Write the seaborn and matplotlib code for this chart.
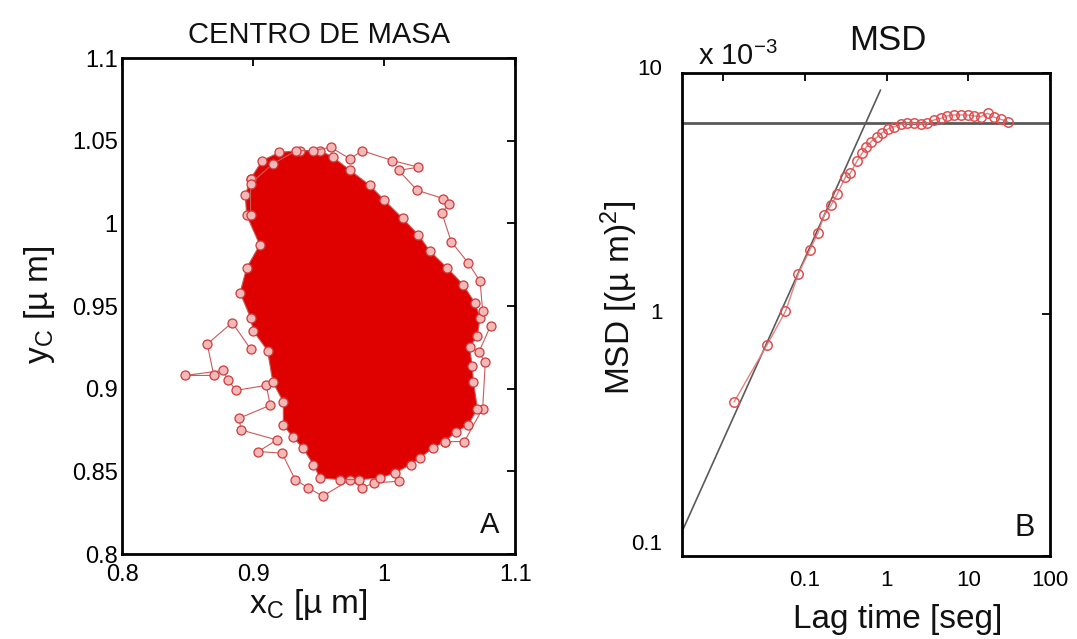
import numpy as np
import pandas as pd
import matplotlib
matplotlib.use("Agg")
import matplotlib.pyplot as plt
import seaborn as sns
from matplotlib.ticker import FixedLocator, FixedFormatter, NullLocator
from matplotlib.transforms import ScaledTranslation

# ---------------- data: panel A (centre of mass) ----------------
# outline of the dense core of the trajectory
core_x = [0.898, 0.907, 0.920, 0.936, 0.951, 0.961, 0.974, 0.989, 1.000, 1.014,
          1.026, 1.035, 1.048, 1.060, 1.069, 1.073, 1.071, 1.065, 1.067, 1.068,
          1.071, 1.064, 1.055, 1.046, 1.037, 1.027, 1.020, 1.008, 0.997, 0.981,
          0.966, 0.951, 0.946, 0.938, 0.930, 0.923, 0.923, 0.915, 0.911, 0.900,
          0.898, 0.890, 0.895, 0.905, 0.895, 0.894]
core_y = [1.027, 1.038, 1.043, 1.044, 1.044, 1.040, 1.032, 1.023, 1.014, 1.003,
          0.993, 0.983, 0.973, 0.963, 0.952, 0.943, 0.932, 0.925, 0.914, 0.904,
          0.888, 0.878, 0.874, 0.868, 0.864, 0.858, 0.854, 0.849, 0.846, 0.845,
          0.845, 0.846, 0.854, 0.864, 0.871, 0.878, 0.892, 0.904, 0.923, 0.935,
          0.943, 0.958, 0.973, 0.987, 1.005, 1.017]

# sparse excursions of the trajectory outside the core
left_x = [0.898, 0.884, 0.865, 0.870, 0.848, 0.877, 0.881, 0.887, 0.910, 0.913,
          0.889, 0.891, 0.918, 0.904, 0.922, 0.932, 0.942, 0.953, 0.974, 0.983,
          0.992, 1.011]
left_y = [0.924, 0.940, 0.927, 0.908, 0.908, 0.911, 0.905, 0.899, 0.902, 0.890,
          0.882, 0.875, 0.869, 0.862, 0.861, 0.845, 0.840, 0.835, 0.845, 0.840,
          0.843, 0.844]
top_x = [0.898, 0.898, 0.915, 0.933, 0.946, 0.959, 0.974, 0.983, 1.006, 1.026,
         1.011, 1.025, 1.045, 1.049, 1.044, 1.051, 1.064, 1.073, 1.075]
top_y = [1.005, 1.024, 1.036, 1.044, 1.044, 1.046, 1.039, 1.044, 1.038, 1.034,
         1.032, 1.020, 1.015, 1.012, 1.006, 0.989, 0.976, 0.965, 0.947]
right_x = [1.081, 1.072, 1.077, 1.075, 1.061, 1.046]
right_y = [0.938, 0.922, 0.916, 0.888, 0.868, 0.868]

# ---------------- data: panel B (MSD, units of 1e-3 um^2) ----------------
lag = [0.0136, 0.0344, 0.058, 0.083, 0.115, 0.145, 0.173, 0.21, 0.25, 0.314,
       0.361, 0.437, 0.503, 0.568, 0.649, 0.769, 0.885, 1.04, 1.23, 1.49,
       1.79, 2.16, 2.61, 3.16, 3.8, 4.6, 5.56, 6.7, 8.1, 9.8,
       11.8, 14.2, 17.2, 20.7, 25.0, 30.3]
msd = [0.434, 0.748, 1.03, 1.47, 1.85, 2.18, 2.58, 2.84, 3.16, 3.71,
       3.85, 4.33, 4.66, 4.95, 5.2, 5.43, 5.66, 5.86, 5.99, 6.13,
       6.19, 6.19, 6.15, 6.19, 6.39, 6.49, 6.64, 6.7, 6.7, 6.7,
       6.64, 6.59, 6.81, 6.56, 6.43, 6.29]
fit_lag = [0.00314, 0.843]
fit_msd = [0.126, 8.5]
plateau = 6.2

a_xticks = [0.8, 0.9, 1.0, 1.1]
a_xlabels = ["0.8", "0.9", "1", "1.1"]
a_yticks = [0.8, 0.85, 0.9, 0.95, 1.0, 1.05, 1.1]
a_ylabels = ["0.8", "0.85", "0.9", "0.95", "1", "1.05", "1.1"]
b_xticks = [0.01, 0.1, 1, 10, 100]
b_xlabels = ["", "0.1", "1", "10", "100"]
b_yticks = [0.1, 1, 10]
b_ylabels = ["0.1", "1", "10"]

# ---------------- style ----------------
sns.set_theme(style="white")
plt.rcParams["font.family"] = ["Liberation Sans", "DejaVu Sans"]
plt.rcParams["mathtext.fontset"] = "custom"
plt.rcParams["mathtext.rm"] = "Liberation Sans"
plt.rcParams["axes.unicode_minus"] = False

fig = plt.figure(figsize=(10.77, 6.39), dpi=100)
axA = fig.add_axes([0.1133, 0.133, 0.3653, 0.7762])
axB = fig.add_axes([0.6332, 0.1299, 0.3418, 0.7559])

# ---------------- panel A ----------------
axA.fill(core_x, core_y, color="#df0000", lw=0, zorder=1)

segs = []
ring_x = core_x + core_x[:1]
ring_y = core_y + core_y[:1]
for name, xs, ys in [("ring", ring_x, ring_y), ("left", left_x, left_y),
                     ("top", top_x, top_y), ("right", right_x, right_y)]:
    segs.append(pd.DataFrame({"x": xs, "y": ys, "seg": name}))
dfA = pd.concat(segs, ignore_index=True)

sns.lineplot(data=dfA, x="x", y="y", units="seg", estimator=None, sort=False,
             color="#cc5a5a", lw=0.8, marker="o", markersize=6.5,
             markerfacecolor="#f3b8b8", markeredgecolor="#cf3a3a",
             markeredgewidth=0.9, legend=False, ax=axA, zorder=2)

axA.set_xlim(0.8, 1.1)
axA.set_ylim(0.8, 1.1)
axA.xaxis.set_major_locator(FixedLocator(a_xticks))
axA.xaxis.set_major_formatter(FixedFormatter(a_xlabels))
axA.yaxis.set_major_locator(FixedLocator(a_yticks))
axA.yaxis.set_major_formatter(FixedFormatter(a_ylabels))
axA.tick_params(axis="both", direction="in", top=True, right=True, length=6,
                width=1.3, colors="black", labelsize=17)
axA.tick_params(axis="x", pad=7)
axA.tick_params(axis="y", pad=3)
axA.set_title("CENTRO DE MASA", fontsize=21, pad=11, color="#111111")
axA.set_xlabel(r"$\mathregular{x_C}$ [µ m]", fontsize=24, color="#111111")
axA.set_ylabel(r"$\mathregular{y_C}$ [µ m]", fontsize=24, color="#111111")
axA.xaxis.set_label_coords(0.473, -0.066)
axA.yaxis.set_label_coords(-0.165, 0.502)
axA.text(0.935, 0.058, "A", transform=axA.transAxes, ha="center", va="center",
         fontsize=21, color="#111111")

# ---------------- panel B ----------------
axB.set_xscale("log")
axB.set_yscale("log")
sns.lineplot(x=lag, y=msd, color="#e88080", lw=1.0, marker="o", markersize=6.8,
             markerfacecolor="none", markeredgecolor="#e05050",
             markeredgewidth=1.1, ax=axB, zorder=3)
sns.lineplot(x=fit_lag, y=fit_msd, color="#5a5a5a", lw=1.2, ax=axB, zorder=2)
axB.axhline(plateau, color="#5a5a5a", lw=2.0, zorder=2)

axB.set_xlim(0.00314, 100)
axB.set_ylim(0.1, 10)
axB.xaxis.set_major_locator(FixedLocator(b_xticks))
axB.xaxis.set_major_formatter(FixedFormatter(b_xlabels))
axB.yaxis.set_major_locator(FixedLocator(b_yticks))
axB.yaxis.set_major_formatter(FixedFormatter(b_ylabels))
axB.xaxis.set_minor_locator(NullLocator())
axB.yaxis.set_minor_locator(NullLocator())
axB.tick_params(axis="both", direction="in", top=True, right=True, length=6,
                width=1.3, colors="black", labelsize=16)
axB.tick_params(axis="x", pad=10)
axB.tick_params(axis="y", pad=14)
# MATLAB-style vertical offsets of the y tick labels
fig.canvas.draw()
for lab, dy in zip(axB.get_yticklabels(), [14, 3, 6]):
    lab.set_transform(lab.get_transform() +
                      ScaledTranslation(0, dy / 100, fig.dpi_scale_trans))
axB.set_xlabel("Lag time [seg]", fontsize=24, color="#111111")
axB.set_ylabel(r"MSD [(µ m)$\mathregular{^2}$]", fontsize=24, color="#111111")
axB.xaxis.set_label_coords(0.587, -0.10)
axB.yaxis.set_label_coords(-0.114, 0.534)
axB.text(0.558, 1.0476, "MSD", transform=axB.transAxes, ha="center",
         va="baseline", fontsize=25, color="#111111")
axB.text(0.0435, 1.0166, r"x 10$^{\mathregular{-3}}$", transform=axB.transAxes,
         ha="left", va="baseline", fontsize=21, color="#111111")
axB.text(0.932, 0.058, "B", transform=axB.transAxes, ha="center", va="center",
         fontsize=22, color="#111111")

for ax in (axA, axB):
    for sp in ax.spines.values():
        sp.set_visible(True)
        sp.set_color("black")
        sp.set_linewidth(2.0)
    ax.grid(False)
    ax.set_facecolor("white")

fig.savefig("out.png", dpi=100, facecolor="white")
